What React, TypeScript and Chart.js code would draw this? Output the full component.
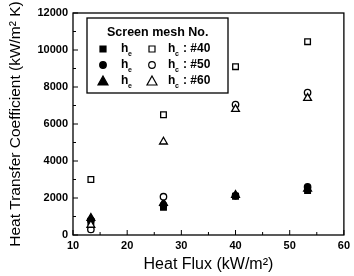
import React, { useEffect, useRef } from "react";
import { Chart, registerables } from "chart.js";

Chart.register(...registerables);

const heatFlux = [13.3, 26.7, 40, 53.3];
const he40 = [720, 1500, 2100, 2400];
const he50 = [800, 1620, 2120, 2600];
const he60 = [920, 1720, 2160, 2500];
const hc40 = [3000, 6500, 9100, 10450];
const hc50 = [300, 2070, 7050, 7700];
const hc60 = [540, 5040, 6800, 7400];
const xTicks = [10, 20, 30, 40, 50, 60];
const yTicks = [0, 2000, 4000, 6000, 8000, 10000, 12000];
const legendTitle = "Screen mesh No.";
const legendRows = ["#40", "#50", "#60"];

const FONT = "'Liberation Sans', Arial, sans-serif";

function pts(ys: number[]) {
  return heatFlux.map((x, i) => ({ x, y: ys[i] }));
}

const framePlugin = {
  id: "frame",
  afterDraw(chart: any) {
    const { ctx, chartArea: a, scales } = chart;
    ctx.save();
    ctx.strokeStyle = "#000";
    ctx.lineWidth = 1.3;
    ctx.strokeRect(a.left, a.top, a.right - a.left, a.bottom - a.top);
    ctx.lineWidth = 1;
    const xs = scales.x;
    for (let v = 10; v <= 60; v += 5) {
      const px = xs.getPixelForValue(v);
      const len = v % 10 === 0 ? 5 : 3;
      ctx.beginPath();
      ctx.moveTo(px, a.bottom);
      ctx.lineTo(px, a.bottom - len);
      ctx.stroke();
    }
    const ys = scales.y;
    for (let v = 0; v <= 12000; v += 1000) {
      const py = ys.getPixelForValue(v);
      const len = v % 2000 === 0 ? 5 : 3;
      ctx.beginPath();
      ctx.moveTo(a.left, py);
      ctx.lineTo(a.left + len, py);
      ctx.stroke();
    }
    // legend
    const lx = 87, ly = 18, lw = 141, lh = 75;
    ctx.lineWidth = 1.3;
    ctx.fillStyle = "#fff";
    ctx.fillRect(lx, ly, lw, lh);
    ctx.strokeRect(lx, ly, lw, lh);
    ctx.fillStyle = "#000";
    ctx.font = `bold 12.5px ${FONT}`;
    ctx.textBaseline = "middle";
    ctx.textAlign = "left";
    ctx.fillText(legendTitle, 107, 33);
    const styles = ["rect", "circle", "triangle"];
    legendRows.forEach((lab, i) => {
      const y = 49 + i * 16;
      const drawMarker = (x: number, filled: boolean) => {
        ctx.save();
        ctx.lineWidth = 1.2;
        ctx.strokeStyle = "#000";
        ctx.fillStyle = filled ? "#000" : "#fff";
        ctx.beginPath();
        if (styles[i] === "rect") {
          ctx.rect(x - 3, y - 3, 6, 6);
        } else if (styles[i] === "circle") {
          ctx.arc(x, y, 3.3, 0, Math.PI * 2);
        } else {
          ctx.moveTo(x, y - 5);
          ctx.lineTo(x + 5, y + 4);
          ctx.lineTo(x - 5, y + 4);
          ctx.closePath();
        }
        ctx.fill();
        ctx.stroke();
        ctx.restore();
      };
      drawMarker(103, true);
      ctx.font = `bold 12px ${FONT}`;
      ctx.fillText("h", 121, y);
      ctx.font = `bold 7px ${FONT}`;
      ctx.fillText("e", 128, y + 5);
      drawMarker(152, false);
      ctx.font = `bold 12px ${FONT}`;
      ctx.fillText("h", 168, y);
      ctx.font = `bold 7px ${FONT}`;
      ctx.fillText("c", 175, y + 5);
      ctx.font = `bold 12px ${FONT}`;
      ctx.fillText(": " + lab, 183, y);
    });
    ctx.restore();
  },
};

export default function App() {
  const ref = useRef<HTMLCanvasElement>(null);
  useEffect(() => {
    if (!ref.current) return;
    const mk = (data: number[], style: string, filled: boolean, r: number) => ({
      data: pts(data),
      pointStyle: style,
      pointRadius: r,
      pointBackgroundColor: filled ? "#000" : "#fff",
      pointBorderColor: "#000",
      pointBorderWidth: 1.3,
      showLine: false,
    });
    const chart = new Chart(ref.current, {
      type: "scatter",
      data: {
        datasets: [
          { label: "hc #40", ...mk(hc40, "rect", false, 4) },
          { label: "hc #60", ...mk(hc60, "triangle", false, 4.5) },
          { label: "hc #50", ...mk(hc50, "circle", false, 3.2) },
          { label: "he #40", ...mk(he40, "rect", true, 4) },
          { label: "he #50", ...mk(he50, "circle", true, 3.2) },
          { label: "he #60", ...mk(he60, "triangle", true, 4.5) },
        ] as any,
      },
      options: {
        animation: false,
        responsive: false,
        layout: { padding: { top: 13, right: 9, left: 0, bottom: 0 } },
        plugins: { legend: { display: false }, tooltip: { enabled: false } },
        scales: {
          x: {
            type: "linear",
            min: 10,
            max: 60,
            afterBuildTicks: (s: any) => {
              s.ticks = xTicks.map((v) => ({ value: v }));
            },
            afterFit: (s: any) => {
              s.height = 41;
            },
            grid: { display: false, drawTicks: false, tickLength: 0 },
            border: { display: false },
            ticks: {
              color: "#000",
              font: { family: FONT, size: 11, weight: "bold" },
              padding: 4,
              callback: (v: any) => String(v),
            },
            title: {
              display: true,
              text: "Heat Flux (kW/m²)",
              color: "#000",
              font: { family: FONT, size: 16 },
              padding: { top: 2, bottom: 2 },
            },
          },
          y: {
            type: "linear",
            min: 0,
            max: 12000,
            afterBuildTicks: (s: any) => {
              s.ticks = yTicks.map((v) => ({ value: v }));
            },
            afterFit: (s: any) => {
              s.width = 73;
            },
            grid: { display: false, drawTicks: false, tickLength: 0 },
            border: { display: false },
            ticks: {
              color: "#000",
              font: { family: FONT, size: 11, weight: "bold" },
              padding: 5,
              callback: (v: any) => String(v),
            },
            title: {
              display: true,
              text: "Heat Transfer Coefficient (kW/m² K)",
              color: "#000",
              font: { family: FONT, size: 15.5 },
              padding: { top: 6, bottom: 4 },
            },
          },
        },
      } as any,
      plugins: [framePlugin],
    });
    return () => chart.destroy();
  }, []);
  return (
    <div style={{ position: "fixed", left: 0, top: 0, width: 354, height: 276, background: "#fff" }}>
      <canvas ref={ref} width={354} height={276} style={{ display: "block" }} />
    </div>
  );
}
